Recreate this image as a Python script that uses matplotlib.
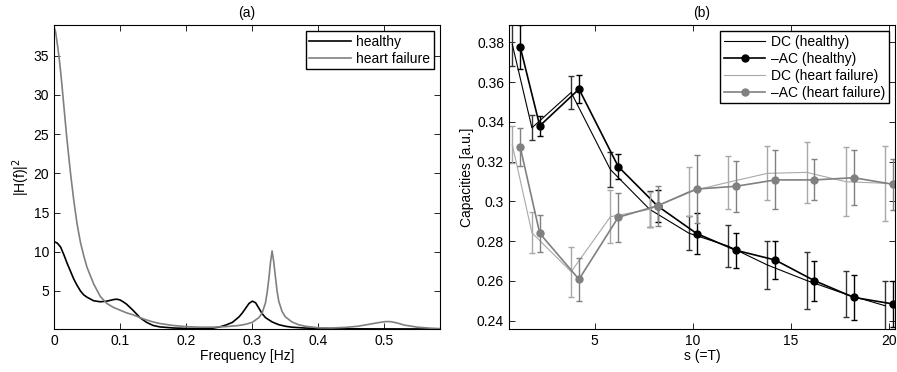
import numpy as np
import matplotlib
matplotlib.use("Agg")
import matplotlib.pyplot as plt

plt.rcParams['font.family'] = ['Liberation Sans', 'DejaVu Sans']
plt.rcParams['font.size'] = 10

# ---- panel (a): spectra ----
freq_healthy = [0.0, 0.005, 0.01, 0.015, 0.02, 0.025, 0.03, 0.035, 0.04, 0.045, 0.05, 0.06,
                0.07, 0.08, 0.09, 0.095, 0.10, 0.105, 0.11, 0.115, 0.12, 0.13, 0.14, 0.15,
                0.16, 0.18, 0.20, 0.22, 0.24, 0.25, 0.26, 0.27, 0.28, 0.285, 0.29, 0.295,
                0.30, 0.305, 0.31, 0.315, 0.32, 0.33, 0.34, 0.35, 0.36, 0.38, 0.40, 0.45,
                0.50, 0.585]
psd_healthy = [11.3, 11.1, 10.6, 9.6, 8.5, 7.5, 6.5, 5.7, 5.0, 4.5, 4.2, 3.75,
               3.62, 3.7, 3.9, 3.95, 3.85, 3.6, 3.3, 2.9, 2.5, 1.6, 1.0, 0.6,
               0.42, 0.28, 0.22, 0.2, 0.25, 0.4, 0.65, 1.0, 1.7, 2.2, 2.8, 3.4,
               3.7, 3.5, 2.8, 2.1, 1.6, 1.05, 0.7, 0.5, 0.38, 0.27, 0.22, 0.17,
               0.16, 0.15]

freq_hf = [0.0, 0.0025, 0.005, 0.0075, 0.01, 0.0125, 0.015, 0.0175, 0.02, 0.025, 0.03, 0.035,
           0.04, 0.045, 0.05, 0.06, 0.07, 0.08, 0.09, 0.10, 0.11, 0.12, 0.13, 0.14,
           0.15, 0.16, 0.18, 0.20, 0.22, 0.24, 0.26, 0.28, 0.29, 0.30, 0.31, 0.315,
           0.32, 0.3225, 0.325, 0.3275, 0.33, 0.3325, 0.335, 0.3375, 0.34, 0.345, 0.35, 0.36,
           0.37, 0.38, 0.40, 0.42, 0.44, 0.46, 0.48, 0.49, 0.50, 0.505, 0.51, 0.52,
           0.53, 0.55, 0.57, 0.585]
psd_hf = [38.7, 38.0, 36.5, 34.9, 33.0, 30.8, 28.5, 26.2, 24.0, 20.0, 16.5, 13.5,
          11.2, 9.5, 8.0, 5.9, 4.3, 3.4, 2.9, 2.55, 2.2, 1.95, 1.6, 1.3,
          1.05, 0.85, 0.6, 0.45, 0.38, 0.38, 0.45, 0.6, 0.75, 1.0, 1.6, 2.2,
          3.5, 4.8, 6.5, 8.6, 10.1, 8.7, 6.8, 5.0, 3.7, 2.4, 1.7, 1.05,
          0.7, 0.5, 0.3, 0.28, 0.35, 0.5, 0.8, 0.95, 1.08, 1.1, 1.08, 0.9,
          0.65, 0.38, 0.25, 0.2]

# ---- panel (b): capacities ----
s = np.array([1, 2, 4, 6, 8, 10, 12, 14, 16, 18, 20])
dc_healthy = [0.379, 0.337, 0.3548, 0.316, 0.296, 0.284, 0.2775, 0.268, 0.2602, 0.2533, 0.2475]
dc_healthy_err = [0.011, 0.0063, 0.0083, 0.009, 0.009, 0.0087, 0.0107, 0.0122, 0.0142, 0.0116, 0.0125]
ac_healthy = [0.3778, 0.338, 0.3565, 0.3175, 0.2977, 0.2838, 0.2754, 0.2705, 0.2601, 0.2517, 0.2484]
ac_healthy_err = [0.011, 0.0052, 0.007, 0.0064, 0.0082, 0.0102, 0.0087, 0.0094, 0.0100, 0.0114, 0.0117]
dc_hf = [0.3286, 0.2842, 0.2646, 0.2923, 0.296, 0.3049, 0.3096, 0.3141, 0.3146, 0.3099, 0.3091]
dc_hf_err = [0.0095, 0.0103, 0.0127, 0.0132, 0.0088, 0.0125, 0.0134, 0.0136, 0.0153, 0.0173, 0.019]
ac_hf = [0.3275, 0.2839, 0.2608, 0.292, 0.2978, 0.3062, 0.3076, 0.3108, 0.3108, 0.3119, 0.3086]
ac_hf_err = [0.0096, 0.0094, 0.0107, 0.0123, 0.0101, 0.0171, 0.0128, 0.0148, 0.0103, 0.0137, 0.0128]

yticks_b = [0.24, 0.26, 0.28, 0.30, 0.32, 0.34, 0.36, 0.38]
yticklabels_b = ['0.24', '0.26', '0.28', '0.3', '0.32', '0.34', '0.36', '0.38']

fig = plt.figure(figsize=(8.97, 3.72), dpi=100)
ax1 = fig.add_axes([0.0602, 0.1156, 0.4303, 0.817])
ax2 = fig.add_axes([0.5674, 0.1156, 0.4303, 0.817])

ax1.plot(freq_healthy, psd_healthy, color='black', lw=1.2, label='healthy')
ax1.plot(freq_hf, psd_hf, color='#808080', lw=1.2, label='heart failure')
ax1.set_xlim(0, 0.584)
ax1.set_ylim(0.15, 38.9)
ax1.set_xticks([0, 0.1, 0.2, 0.3, 0.4, 0.5])
ax1.set_xticklabels(['0', '0.1', '0.2', '0.3', '0.4', '0.5'])
ax1.set_yticks([5, 10, 15, 20, 25, 30, 35])
ax1.set_xlabel('Frequency [Hz]', labelpad=1)
ax1.set_ylabel('|H(f)|$^2$', labelpad=1)
ax1.set_title('(a)', fontsize=10, pad=6)

cap = 2.5
series = [
    (s - 0.2, dc_healthy, dc_healthy_err, 'black', '#333333', 0.8, None, 'DC (healthy)'),
    (s + 0.2, ac_healthy, ac_healthy_err, 'black', 'black', 1.2, 'o', '\u2013AC (healthy)'),
    (s - 0.2, dc_hf, dc_hf_err, '#a8a8a8', '#a8a8a8', 0.8, None, 'DC (heart failure)'),
    (s + 0.2, ac_hf, ac_hf_err, '#808080', '#808080', 1.2, 'o', '\u2013AC (heart failure)'),
]
for x, y, err, col, ecol, lw, mk, lab in series:
    ax2.errorbar(x, y, yerr=err, fmt='none', ecolor=ecol, elinewidth=1.0, capsize=cap)
    ax2.plot(x, y, color=col, lw=lw, marker=mk, ms=5, label=lab)

ax2.set_xlim(0.63, 20.3)
ax2.set_ylim(0.2358, 0.3887)
ax2.set_xticks([5, 10, 15, 20])
ax2.set_yticks(yticks_b)
ax2.set_yticklabels(yticklabels_b)
ax2.set_xlabel('s (=T)', labelpad=1)
ax2.set_ylabel('Capacities [a.u.]', labelpad=2)
ax2.set_title('(b)', fontsize=10, pad=6)

for ax in (ax1, ax2):
    ax.tick_params(direction='in', top=True, right=True, length=4, width=0.6, labelsize=10)
    for sp in ax.spines.values():
        sp.set_linewidth(0.8)
    leg = ax.legend(loc='upper right', fancybox=False, edgecolor='black', fontsize=10,
                    borderaxespad=0.45, handlelength=3.0, labelspacing=0.22,
                    borderpad=0.25, handletextpad=0.4, framealpha=1)
    leg.get_frame().set_linewidth(1.0)

fig.savefig('out.png', dpi=100)
